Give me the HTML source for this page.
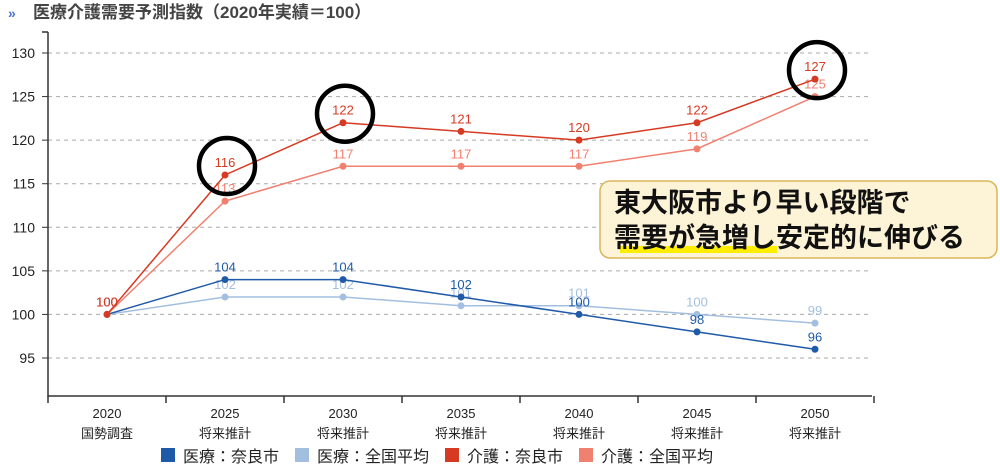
<!DOCTYPE html>
<html><head><meta charset="utf-8"><style>
body{margin:0;background:#fff;width:1000px;height:467px;overflow:hidden;font-family:"Liberation Sans","Noto Sans CJK JP",sans-serif}
svg text{font-family:"Liberation Sans","Noto Sans CJK JP",sans-serif}
</style></head><body>
<svg width="1000" height="467">
<g>
<text x="8" y="18" font-size="14" font-weight="bold" fill="#4a6fd8">»</text>
<text x="33" y="18" font-size="17" font-weight="bold" fill="#444">医療介護需要予測指数（2020年実績＝100）</text>
</g>
<g id="grid"></g><g id="axes"></g><g id="series"></g>
<g>
<rect x="600" y="181" width="397" height="77" rx="10" fill="#fdf3d6" stroke="#d9b65a" stroke-width="1.5"/>
<rect x="620" y="246" width="157" height="7" fill="#ffee00"/>
<text x="614" y="212" font-size="27" font-weight="bold" fill="#111">東大阪市より早い段階で</text>
<text x="614" y="247" font-size="27" font-weight="bold" fill="#111">需要が急増し安定的に伸びる</text>
</g>
<g id="legend"></g>
</svg>
<script>
const categories=["2020","2025","2030","2035","2040","2045","2050"];
const subLabels=["国勢調査","将来推計","将来推計","将来推計","将来推計","将来推計","将来推計"];
const yTicks=[95,100,105,110,115,120,125,130];
const iryoNara=[100,104,104,102,100,98,96];
const iryoZenkoku=[100,102,102,101,101,100,99];
const kaigoNara=[100,116,122,121,120,122,127];
const kaigoZenkoku=[100,113,117,117,117,119,125];
const seriesNames=["医療：奈良市","医療：全国平均","介護：奈良市","介護：全国平均"];
const highlightIdx=[1,2,6];
const NS="http://www.w3.org/2000/svg";
function X(i){return 107+i*118;}
function Y(v){return 358-(v-95)*(305/35);}
function mk(p,tag,a){const e=document.createElementNS(NS,tag);for(const k in a)e.setAttribute(k,a[k]);p.appendChild(e);return e;}
const grid=document.getElementById('grid'),axes=document.getElementById('axes'),ser=document.getElementById('series'),leg=document.getElementById('legend');
yTicks.forEach(v=>{
 const l=mk(grid,'line',{x1:48,x2:872,y1:Y(v),y2:Y(v),stroke:'#aaa','stroke-dasharray':'4,4'});
 
 
 mk(axes,'line',{x1:42,x2:48,y1:Y(v),y2:Y(v),stroke:'#333'});
 const t=mk(axes,'text',{x:35,y:Y(v)+5,'font-size':14,'text-anchor':'end',fill:'#222'});t.textContent=v;
 
 
});
mk(axes,'line',{x1:48,x2:48,y1:32,y2:397,stroke:'#333','stroke-width':1.5});
mk(axes,'line',{x1:42,x2:48,y1:32,y2:32,stroke:'#333','stroke-width':1.5});
mk(axes,'line',{x1:48,x2:872,y1:396,y2:396,stroke:'#333','stroke-width':1.5});
for(let i=0;i<=categories.length;i++){mk(axes,'line',{x1:48+i*118,x2:48+i*118,y1:396,y2:403,stroke:'#333','stroke-width':1.5});}
categories.forEach((c,i)=>{
 const t=mk(axes,'text',{x:X(i),y:418,'font-size':13,'text-anchor':'middle',fill:'#222'});t.textContent=c;
 
 
 const s=mk(axes,'text',{x:X(i),y:438,'font-size':13,'text-anchor':'middle',fill:'#222'});s.textContent=subLabels[i];
 
 
});
const defs=[[iryoZenkoku,'#a3bfe0'],[iryoNara,'#1f5aa8'],[kaigoZenkoku,'#f08070'],[kaigoNara,'#d63a22']];
defs.forEach(([d,col],k)=>{
 const g=mk(ser,'g',{});
 
 
 mk(g,'polyline',{points:d.map((v,i)=>X(i)+','+Y(v)).join(' '),fill:'none',stroke:col,'stroke-width':1.5});
 d.forEach((v,i)=>{
  const c=mk(g,'circle',{cx:X(i),cy:Y(v),r:3.5,fill:col});
  
  
  const t=mk(g,'text',{x:X(i),y:Y(v)-8,'font-size':13,'text-anchor':'middle',fill:col});t.textContent=v;
  
  
 });
});
highlightIdx.forEach(i=>{
 const c=mk(ser,'circle',{cx:X(i)+2,cy:Y(kaigoNara[i])-9,r:28,fill:'none',stroke:'#000','stroke-width':4.5});
 
 
});
const legCols=['#1f5aa8','#a3bfe0','#d63a22','#f08070'];const legX=[161,295,445,579];
seriesNames.forEach((n,k)=>{
 const g=mk(leg,'g',{});
 
 
 mk(g,'rect',{x:legX[k],y:448,width:14,height:14,fill:legCols[k]});
 const t=mk(g,'text',{x:legX[k]+22,y:462,'font-size':16,fill:'#222'});t.textContent=n;
});
</script>
</body></html>
